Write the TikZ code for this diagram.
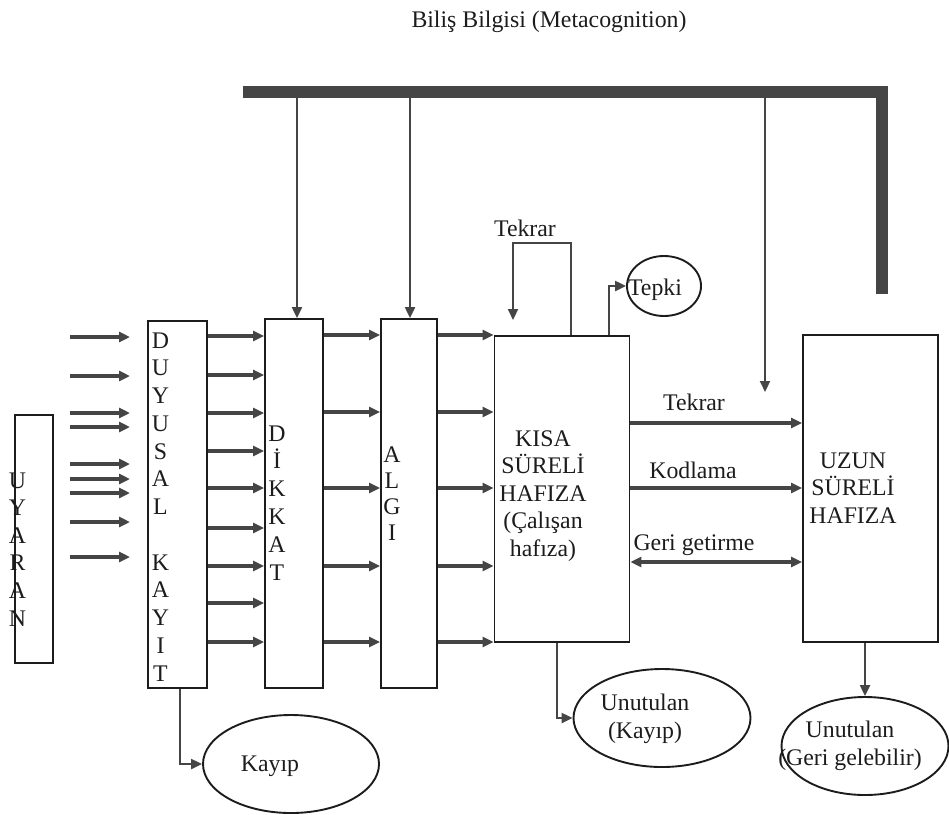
\documentclass[tikz,border=0pt]{standalone}
\usepackage{fontspec}
\setmainfont{Liberation Serif}
\usetikzlibrary{arrows.meta,shapes.geometric}
\definecolor{InkDark}{HTML}{1C1C1C}
\definecolor{InkArrow}{HTML}{454545}
\tikzset{>={Triangle[length=11pt,width=10pt]},
 every node/.style={font=\fontsize{23.8}{27.6}\selectfont,text=InkDark},
 panel/.style={draw=InkDark,line width=1.9pt,inner sep=0pt},
 oval/.style={ellipse,draw=InkDark,line width=1.9pt,inner sep=0pt},
 flow/.style={draw=InkArrow,line width=3.2pt,->},
 feed/.style={draw=InkArrow,line width=2.2pt,->},
 letter/.style={inner sep=0pt,anchor=base}}

\begin{document}
\begin{tikzpicture}[x=1pt,y=-1pt]
\useasboundingbox (0,0) rectangle (949,814);
% boxes
\node[panel,minimum width=38,minimum height=248] (uyaran) at (34,539) {};
\node[panel,minimum width=59,minimum height=367] (duyusal) at (177.5,504.5) {};
\node[panel,minimum width=58,minimum height=369] (dikkat) at (294,503.5) {};
\node[panel,minimum width=56,minimum height=369] (algi) at (409,503.5) {};
\node[panel,minimum width=135,minimum height=306] (kisa) at (562,489) {};
\node[panel,minimum width=135,minimum height=307] (uzun) at (870.5,488.5) {};
\node[oval,minimum width=74,minimum height=60] (tepki) at (664,286) {};
\node[oval,minimum width=176,minimum height=98] (kayip) at (291,764) {};
\node[oval,minimum width=177,minimum height=98] (unutK) at (662,718) {};
\node[oval,minimum width=167,minimum height=98] (unutG) at (865,746) {};
% letter columns
\foreach \l [count=\i from 0] in {U,Y,A,R,A,N}
 \node[letter] (uy\i) at (17.5,488+27.6*\i) {\l};
\foreach \l [count=\i from 0] in {D,U,Y,U,S,A,L,{},K,A,Y,I,T}
 \node[letter] (du\i) at (160.5,348+27.75*\i) {\l};
\foreach \l [count=\i from 0] in {D,İ,K,K,A,T}
 \node[letter] (di\i) at (277,441+27.8*\i) {\l};
\foreach \l [count=\i from 0] in {A,L,G,I}
 \node[letter] (al\i) at (392,462+26*\i) {\l};
% texts
\node[anchor=base] (title) at (549,27) {Biliş Bilgisi (Metacognition)};
\node[align=center] (kisaT) at (543,496) {KISA\\SÜRELİ\\HAFIZA\\(Çalışan\\hafıza)};
\node[align=center] (uzunT) at (853,488) {UZUN\\SÜRELİ\\HAFIZA};
\node[anchor=base] (tepkiT) at (655,295) {Tepki};
\node[anchor=base] (kayipT) at (270,771) {Kayıp};
\node[align=center] (unutKT) at (645,719) {Unutulan\\(Kayıp)};
\node[align=center] (unutGT) at (850,746) {Unutulan\\(Geri gelebilir)};
\node[anchor=base] (loopT) at (525,236) {Tekrar};
\node[anchor=base] (tekrarT) at (694,410) {Tekrar};
\node[anchor=base] (kodT) at (693,478) {Kodlama};
\node[anchor=base] (geriT) at (694,550) {Geri getirme};
% stimuli
\foreach \y in {337,376,413,427,464,479,493,522,557}
 \draw[flow] (70,\y) -- (130,\y);
\foreach \y in {336,375,413,451,488,528,566,603,642}
 \draw[flow] (duyusal.east |- 0,\y) -- (dikkat.west |- 0,\y);
\foreach \y in {335,412,488,566,642}{
 \draw[flow] (dikkat.east |- 0,\y) -- (algi.west |- 0,\y);
 \draw[flow] (algi.east |- 0,\y) -- (kisa.west |- 0,\y);
}
% metacognition bar
\coordinate (barL) at (243,92);
\coordinate (barR) at (882,92);
\coordinate (barE) at (882,294);
\coordinate (recall) at (765,392);
\draw[feed] (barL -| 297,0) -- (dikkat.north -| 297,0);
\draw[feed] (barL -| 410,0) -- (algi.north -| 410,0);
\draw[feed] (barL -| recall) -- (recall);
\draw[InkArrow,line width=12pt] (barL) -- (barR) -- (barE);
% short term loops
\draw[feed] (kisa.north -| 571,0) |- (513,243) -- (513,320);
\draw[feed] (kisa.north -| 609,0) |- (tepki.west);
\draw[flow] (kisa.east |- 0,423) -- (uzun.west |- 0,423);
\draw[flow] (kisa.east |- 0,488) -- (uzun.west |- 0,488);
\draw[flow,<->] (kisa.east |- 0,562) -- (uzun.west |- 0,562);
% losses
\draw[feed] (duyusal.south -| 180,0) |- (kayip.west);
\draw[feed] (kisa.south -| 557,0) |- (unutK.west);
\draw[feed] (uzun.south -| unutG.north) -- (unutG.north);
\end{tikzpicture}
\end{document}
